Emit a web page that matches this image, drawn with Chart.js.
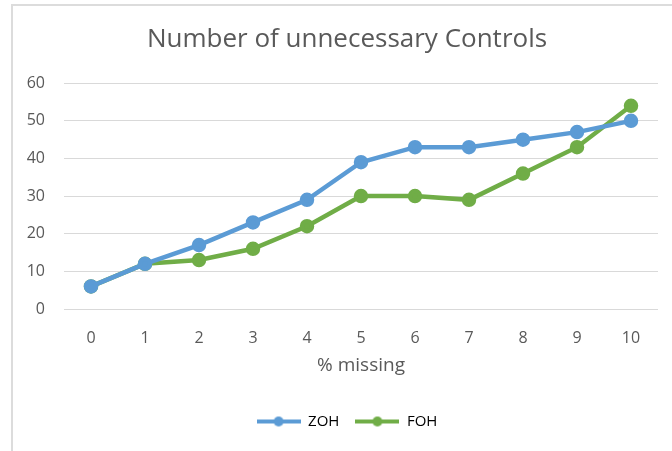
<!DOCTYPE html>
<html>
<head>
<meta charset="utf-8">
<script src="https://cdn.jsdelivr.net/npm/chart.js@4"></script>
<style>
  html, body { margin: 0; padding: 0; background: #fff; }
  #wrap { position: relative; width: 672px; height: 451px; overflow: hidden; }
  #frame {
    position: absolute; left: 11px; top: 4px; width: 700px; height: 460px;
    border-left: 2px solid #dcdcdc; border-top: 2px solid #dcdcdc;
  }
  canvas { position: absolute; left: 0; top: 0; }
</style>
</head>
<body>
<div id="wrap">
  <div id="frame"></div>
  <canvas id="chart" width="672" height="451"></canvas>
</div>
<script>
const categories = ["0", "1", "2", "3", "4", "5", "6", "7", "8", "9", "10"];
const zohValues = [6, 12, 17, 23, 29, 39, 43, 43, 45, 47, 50];
const fohValues = [6, 12, 13, 16, 22, 30, 30, 29, 36, 43, 54];

const FONT = "'Open Sans', sans-serif";
const TEXT = "#595959";

// small line-with-dot swatch for the legend
function swatch(color) {
  const c = document.createElement("canvas");
  c.width = 44;
  c.height = 12;
  const g = c.getContext("2d");
  g.strokeStyle = color;
  g.lineWidth = 4;
  g.beginPath();
  g.moveTo(0, 6);
  g.lineTo(44, 6);
  g.stroke();
  g.fillStyle = color;
  g.beginPath();
  g.arc(22, 6, 5, 0, Math.PI * 2);
  g.fill();
  return c;
}

const series = [
  { label: "ZOH", data: zohValues, color: "#5b9bd5" },
  { label: "FOH", data: fohValues, color: "#70ad47" },
];

// title + legend sit a bit right of the canvas centre in the original
const nudgeBoxes = {
  id: "nudgeBoxes",
  afterLayout(chart) {
    [chart.titleBlock, chart.legend].forEach((b) => {
      if (!b) return;
      b.left += 6;
      b.right += 6;
    });
  },
};

new Chart(document.getElementById("chart"), {
  type: "line",
  data: {
    labels: categories,
    datasets: series.map((s) => ({
      label: s.label,
      data: s.data,
      borderColor: s.color,
      backgroundColor: s.color,
      borderWidth: 4.5,
      pointRadius: 5,
      pointStyle: "circle",
      tension: 0,
      fill: false,
    })),
  },
  plugins: [nudgeBoxes],
  options: {
    responsive: false,
    animation: false,
    devicePixelRatio: 1,
    layout: { padding: { left: 24, right: 14, top: 24, bottom: 12 } },
    plugins: {
      title: {
        display: true,
        text: "Number of unnecessary Controls",
        color: TEXT,
        font: { family: FONT, size: 26, weight: "normal" },
        padding: { top: 0, bottom: 28 },
      },
      legend: {
        position: "bottom",
        labels: {
          usePointStyle: true,
          pointStyleWidth: 44,
          boxHeight: 12,
          color: TEXT,
          font: { family: FONT, size: 15 },
          padding: 16,
          generateLabels: () =>
            series.map((s, i) => ({
              text: s.label,
              pointStyle: swatch(s.color),
              fillStyle: s.color,
              strokeStyle: s.color,
              lineWidth: 0,
              datasetIndex: i,
              hidden: false,
            })),
        },
      },
      tooltip: { enabled: false },
    },
    scales: {
      x: {
        offset: true,
        grid: { display: false, drawTicks: false },
        border: { display: false },
        ticks: { color: TEXT, font: { family: FONT, size: 16 }, padding: 20 },
        title: {
          display: true,
          text: "% missing",
          color: TEXT,
          font: { family: FONT, size: 19 },
          padding: { top: 7, bottom: 21 },
        },
        afterFit: (scale) => { scale.height = 89; },
      },
      y: {
        min: 0,
        max: 60,
        ticks: { stepSize: 10, color: TEXT, font: { family: FONT, size: 16 }, padding: 19 },
        grid: { color: "#d9d9d9", lineWidth: 1, drawTicks: false },
        border: { display: false },
        afterFit: (scale) => { scale.width = 40; },
      },
    },
  },
});
</script>
</body>
</html>
